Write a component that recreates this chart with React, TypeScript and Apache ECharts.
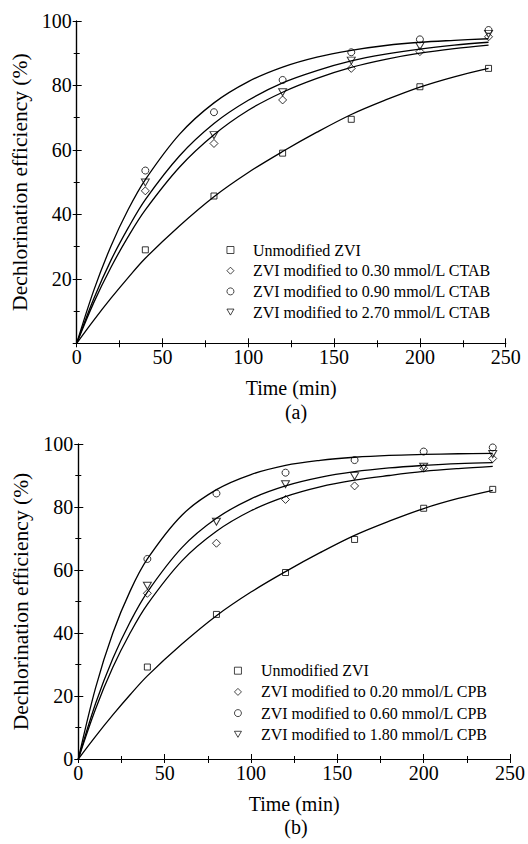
import React, { useEffect, useRef } from "react";
import * as echarts from "echarts";

// ---------- data ----------
const sampleTimes = [40, 80, 120, 160, 200, 240];

// panel (a) - CTAB
const unmodifiedZVI = [29.0, 45.7, 59.0, 69.5, 79.6, 85.3];
const ctab030 = [47.3, 62.0, 75.5, 85.3, 90.5, 95.1];
const ctab090 = [53.6, 71.7, 81.7, 90.3, 94.3, 97.2];
const ctab270 = [49.9, 64.6, 77.9, 87.7, 92.2, 96.0];

// panel (b) - CPB
const unmodifiedZVIb = [29.2, 45.9, 59.2, 69.7, 79.6, 85.6];
const cpb020 = [52.6, 68.5, 82.4, 86.7, 92.3, 95.4];
const cpb060 = [63.5, 84.3, 90.9, 94.9, 97.6, 98.9];
const cpb180 = [55.0, 75.3, 87.2, 89.8, 92.8, 96.8];

// fitted curves
const fitTimes = [0, 10, 20, 30, 40, 60, 80, 100, 120, 140, 160, 180, 200, 220, 240];
const fitUnmodified = [0, 7.2, 14.0, 20.4, 26.4, 36.5, 45.5, 53.0, 59.5, 65.5, 71.0, 75.5, 79.5, 82.7, 85.3];
const fitCtab030 = [0, 12.7, 23.6, 33.1, 41.4, 54.7, 64.7, 72.3, 77.9, 82.2, 85.6, 88.1, 90.0, 91.4, 92.5];
const fitCtab090 = [0, 16.5, 30.2, 41.5, 50.8, 64.9, 74.6, 81.2, 85.7, 88.8, 90.9, 92.4, 93.4, 94.0, 94.5];
const fitCtab270 = [0, 13.9, 25.8, 35.8, 44.6, 58.2, 68.2, 75.4, 80.8, 84.6, 87.6, 89.7, 91.3, 92.5, 93.4];
const fitCpb020 = [0, 15.9, 29.1, 40.0, 49.1, 62.9, 72.3, 78.8, 83.3, 86.4, 88.5, 90.0, 91.3, 92.2, 92.9];
const fitCpb060 = [0, 22.6, 40.0, 53.3, 63.5, 77.4, 85.5, 90.3, 93.2, 94.8, 95.8, 96.4, 96.7, 96.9, 97.0];
const fitCpb180 = [0, 17.6, 31.9, 43.5, 53.0, 67.1, 76.4, 82.6, 86.7, 89.4, 91.2, 92.4, 93.2, 93.8, 94.1];

const namesA = [
  "Unmodified ZVI",
  "ZVI modified to 0.30 mmol/L CTAB",
  "ZVI modified to 0.90 mmol/L CTAB",
  "ZVI modified to 2.70 mmol/L CTAB",
];
const namesB = [
  "Unmodified ZVI ",
  "ZVI modified to 0.20 mmol/L CPB",
  "ZVI modified to 0.60 mmol/L CPB",
  "ZVI modified to 1.80 mmol/L CPB",
];

const xTitle = "Time (min)";
const yTitle = "Dechlorination efficiency (%)";

const FONT = "Liberation Serif, Times New Roman, serif";
const TRI_DOWN = "path://M0,0L10,0L5,8.66Z";
const symbols = ["rect", "diamond", "circle", TRI_DOWN];
const symbolSizes = [6, 8, 7, [8, 7]];

const axisLine = { show: true, lineStyle: { color: "#000", width: 1.2 } };
const txt = (size: number) => ({
  color: "#000",
  fontFamily: FONT,
  fontSize: size,
  fontWeight: 400,
});

function mainX(gridIndex: number) {
  return {
    type: "value",
    gridIndex,
    position: "bottom",
    min: 0,
    max: 250,
    interval: 50,
    axisLine,
    axisTick: { show: true, inside: true, length: 5, lineStyle: { color: "#000", width: 1 } },
    minorTick: { show: true, splitNumber: 2, length: 3, lineStyle: { color: "#000", width: 1 } },
    splitLine: { show: false },
    minorSplitLine: { show: false },
    axisLabel: { ...txt(20), margin: 4 },
    name: xTitle,
    nameLocation: "middle",
    nameGap: 35,
    nameTextStyle: txt(20),
  };
}
function topX(gridIndex: number) {
  return {
    type: "value",
    gridIndex,
    position: "top",
    min: 0,
    max: 250,
    interval: 25,
    axisLine,
    axisTick: { show: true, inside: true, length: 4, lineStyle: { color: "#000", width: 1 } },
    axisLabel: { show: false },
    splitLine: { show: false },
  };
}
function mainY(gridIndex: number, showMin: boolean) {
  return {
    type: "value",
    gridIndex,
    position: "left",
    min: 0,
    max: 100,
    interval: 20,
    axisLine,
    axisTick: { show: true, inside: true, length: 5, lineStyle: { color: "#000", width: 1 } },
    minorTick: { show: true, splitNumber: 2, length: 3, lineStyle: { color: "#000", width: 1 } },
    splitLine: { show: false },
    minorSplitLine: { show: false },
    axisLabel: { ...txt(20), margin: 5, showMinLabel: showMin },
    name: yTitle,
    nameLocation: "middle",
    nameRotate: 90,
    nameGap: 40,
    nameTextStyle: txt(21.5),
  };
}
function rightY(gridIndex: number) {
  return {
    type: "value",
    gridIndex,
    position: "right",
    min: 0,
    max: 100,
    interval: 20,
    axisLine,
    axisTick: { show: true, inside: true, length: 4, lineStyle: { color: "#000", width: 1 } },
    minorTick: { show: true, splitNumber: 2, length: 3, lineStyle: { color: "#000", width: 1 } },
    axisLabel: { show: false },
    splitLine: { show: false },
  };
}

function fitLine(name: string, values: number[], xi: number, yi: number) {
  return {
    type: "line",
    name,
    xAxisIndex: xi,
    yAxisIndex: yi,
    data: fitTimes.map((t, i) => [t, values[i]]),
    symbol: "none",
    showSymbol: false,
    smooth: 0.35,
    silent: true,
    lineStyle: { color: "#000", width: 1.3 },
    z: 2,
  };
}
function points(name: string, values: number[], k: number, xi: number, yi: number) {
  return {
    type: "scatter",
    name,
    xAxisIndex: xi,
    yAxisIndex: yi,
    data: sampleTimes.map((t, i) => [t, values[i]]),
    symbol: symbols[k],
    symbolSize: symbolSizes[k],
    itemStyle: { color: "rgba(255,255,255,0)", borderColor: "#000", borderWidth: 1 },
    z: 3,
  };
}

function legendFor(names: string[], left: number, top: number, gap: number, pad: number) {
  return {
    data: names,
    orient: "vertical",
    left,
    top,
    padding: 0,
    itemWidth: 7,
    itemHeight: 7,
    itemGap: gap,
    selectedMode: false,
    itemStyle: { borderWidth: 0.9 },
    formatter: (n: string) => n.trim(),
    textStyle: { ...txt(16), lineHeight: 16, padding: [0, 0, 0, pad] },
  };
}

export default function App() {
  const ref = useRef<HTMLDivElement>(null);
  useEffect(() => {
    if (!ref.current) return;
    const chart = echarts.init(ref.current, null, { renderer: "svg" });
    const seriesA = [unmodifiedZVI, ctab030, ctab090, ctab270];
    const fitsA = [fitUnmodified, fitCtab030, fitCtab090, fitCtab270];
    const seriesB = [unmodifiedZVIb, cpb020, cpb060, cpb180];
    const fitsB = [fitUnmodified, fitCpb020, fitCpb060, fitCpb180];
    const series: any[] = [];
    fitsA.forEach((f, k) => series.push(fitLine("fitA" + k, f, 0, 0)));
    fitsB.forEach((f, k) => series.push(fitLine("fitB" + k, f, 2, 2)));
    seriesA.forEach((s, k) => series.push(points(namesA[k], s, k, 0, 0)));
    seriesB.forEach((s, k) => series.push(points(namesB[k], s, k, 2, 2)));

    chart.setOption({
      animation: false,
      backgroundColor: "#fff",
      textStyle: { fontFamily: FONT, color: "#000", fontWeight: 400 },
      grid: [
        { left: 76.7, top: 21, width: 429, height: 322.3 },
        { left: 78.3, top: 444, width: 433.4, height: 315 },
      ],
      xAxis: [mainX(0), topX(0), mainX(1), topX(1)],
      yAxis: [mainY(0, false), rightY(0), mainY(1, true), rightY(1)],
      legend: [legendFor(namesA, 226.5, 242, 4.7, 14), legendFor(namesB, 234, 662.7, 5.2, 14.5)],
      graphic: [
        {
          type: "text",
          x: 296,
          y: 411.5,
          style: { text: "(a)", fontFamily: FONT, fontSize: 20, fill: "#000", align: "center", verticalAlign: "middle" },
        },
        {
          type: "text",
          x: 296,
          y: 826.5,
          style: { text: "(b)", fontFamily: FONT, fontSize: 20, fill: "#000", align: "center", verticalAlign: "middle" },
        },
      ],
      series,
    });
    return () => chart.dispose();
  }, []);
  return (
    <div
      ref={ref}
      style={{ position: "absolute", left: 0, top: 0, width: 528, height: 844 }}
    />
  );
}
